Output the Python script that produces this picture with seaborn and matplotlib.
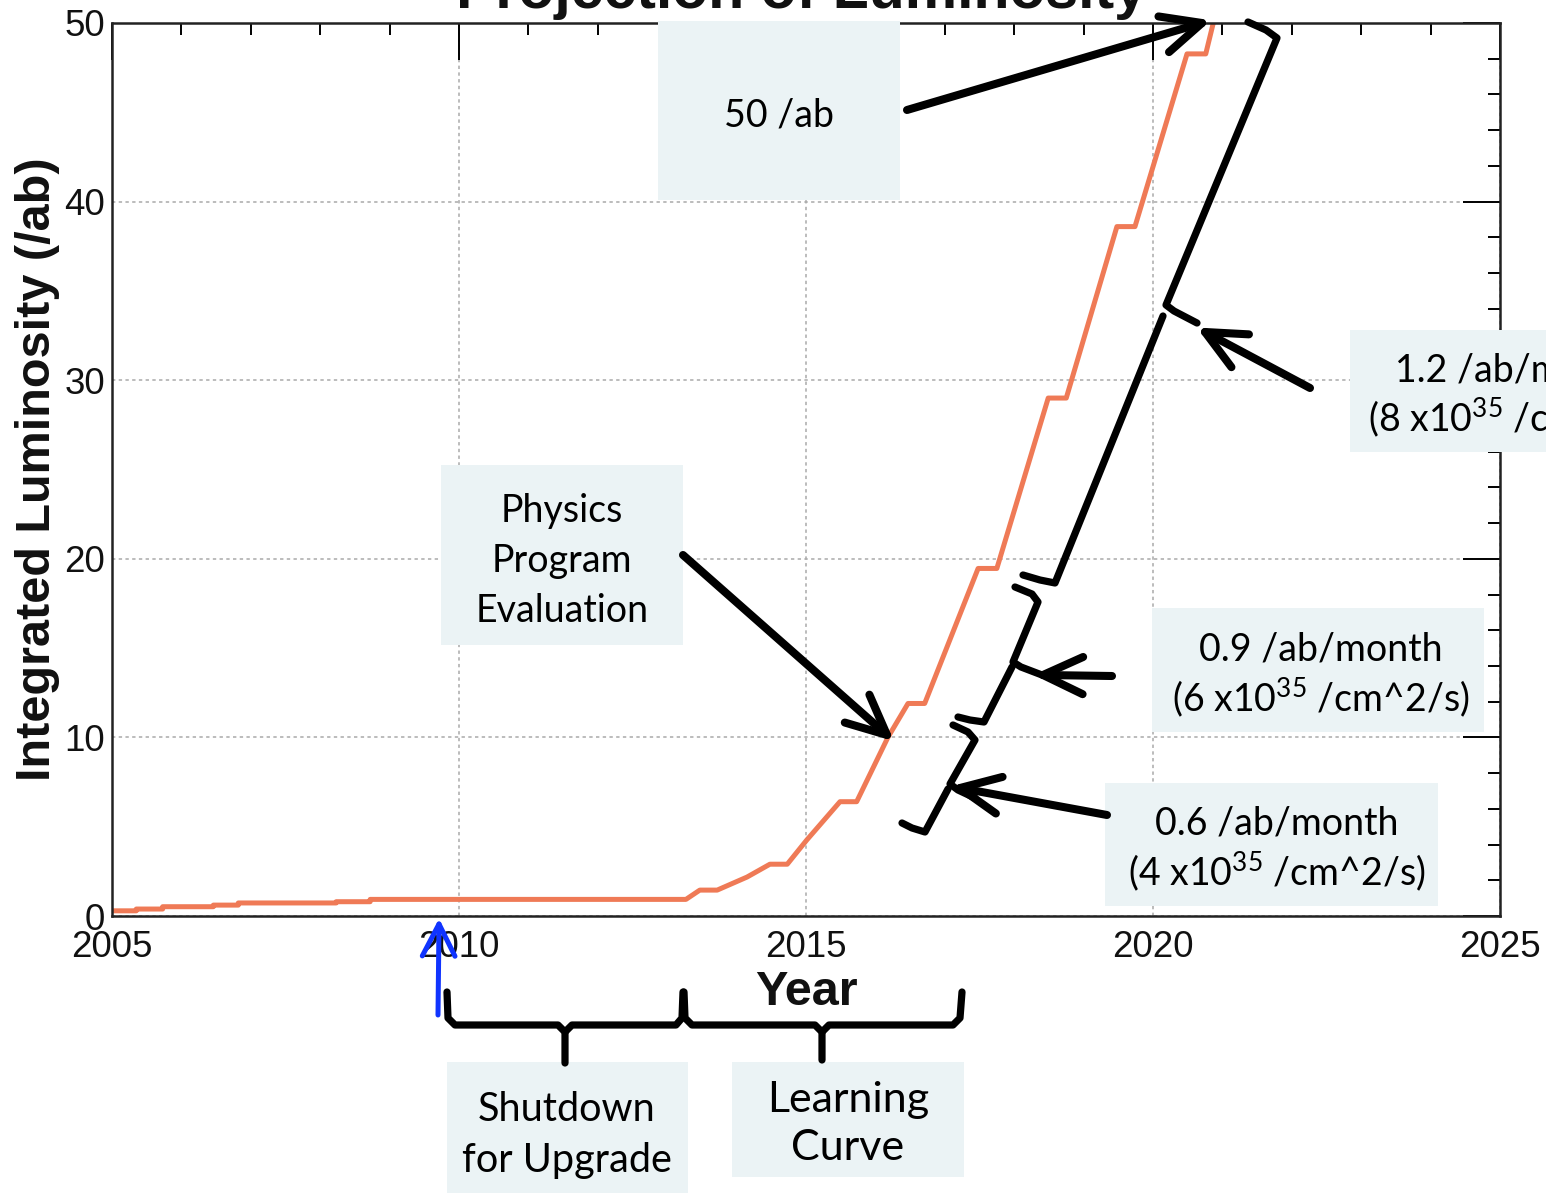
import numpy as np
import pandas as pd
import matplotlib
matplotlib.use("Agg")
import matplotlib.pyplot as plt
import matplotlib.transforms as mtransforms
from matplotlib.lines import Line2D
from matplotlib.patches import Rectangle
import seaborn as sns

# Projected integrated luminosity (/ab) versus calendar year
year = [2005.00, 2005.35, 2005.35, 2005.73, 2005.73, 2006.46, 2006.46, 2006.82,
        2006.82, 2008.23, 2008.23, 2008.72, 2008.72, 2013.27, 2013.47, 2013.72,
        2014.15, 2014.48, 2014.73, 2015.01, 2015.49, 2015.73, 2016.18, 2016.47,
        2016.71, 2017.48, 2017.75, 2018.49, 2018.75, 2019.48, 2019.74, 2020.49,
        2020.76, 2020.90]
lumi = [0.29, 0.29, 0.39, 0.39, 0.52, 0.52, 0.61, 0.61,
        0.73, 0.73, 0.80, 0.80, 0.93, 0.93, 1.45, 1.45,
        2.18, 2.90, 2.90, 4.25, 6.40, 6.40, 10.0, 11.90,
        11.90, 19.46, 19.46, 29.0, 29.0, 38.6, 38.6, 48.27,
        48.27, 50.5]

x_ticks = [2005, 2010, 2015, 2020, 2025]
x_tick_labels = ["2005", "2010", "2015", "2020", "2025"]
y_ticks = [0, 10, 20, 30, 40, 50]
y_tick_labels = ["0", "10", "20", "30", "40", "50"]

title = "Projection of Luminosity"
x_label = "Year"
y_label = "Integrated Luminosity (/ab)"

box_lines = [
    ["50 /ab"],
    ["Physics", "Program", "Evaluation"],
    ["1.2 /ab/month", "(8 x10$^{35}$ /cm^2/s)"],
    ["0.9 /ab/month", "(6 x10$^{35}$ /cm^2/s)"],
    ["0.6 /ab/month", "(4 x10$^{35}$ /cm^2/s)"],
    ["Shutdown", "for Upgrade"],
    ["Learning", "Curve"],
]

df = pd.DataFrame({"year": year, "lumi": lumi})

sns.set_style("white")
plt.rcParams["font.family"] = ["Liberation Sans", "DejaVu Sans"]
plt.rcParams["mathtext.fontset"] = "custom"
plt.rcParams["mathtext.rm"] = "Lato"
plt.rcParams["mathtext.it"] = "Lato:italic"
plt.rcParams["mathtext.bf"] = "Lato:bold"
plt.rcParams["mathtext.default"] = "rm"

W, H = 1546, 1193
fig = plt.figure(figsize=(W / 100, H / 100), dpi=100)
fig.patch.set_facecolor("white")

# axes frame in pixel units
left, right, top, bottom = 112, 1500, 23, 916
ax = fig.add_axes([left / W, (H - bottom) / H, (right - left) / W, (bottom - top) / H])

sns.lineplot(data=df, x="year", y="lumi", ax=ax, estimator=None, sort=False,
             color="#EF7A56", linewidth=3.6, legend=False)

ax.set_xlim(2005, 2025)
ax.set_ylim(0, 50)
ax.set_xticks(x_ticks)
ax.set_xticklabels(x_tick_labels)
ax.set_yticks(y_ticks)
ax.set_yticklabels(y_tick_labels)
ax.set_xticks(np.arange(2005, 2026, 1), minor=True)
ax.set_yticks(np.arange(0, 51, 2), minor=True)
ax.tick_params(which="both", direction="in", top=True, right=True,
               color="black", width=1.4)
ax.tick_params(which="major", length=26.5, labelsize=26.5, labelcolor="#111111")
ax.tick_params(which="minor", length=8.5)
ax.tick_params(axis="x", which="major", pad=10)
ax.tick_params(axis="y", which="major", pad=5)
ax.grid(True, which="major", color="#aaaaaa", linestyle=(0, (2.2, 2.2)), linewidth=1.1)
for sp in ax.spines.values():
    sp.set_visible(True)
    sp.set_color("#222222")
    sp.set_linewidth(1.8)

ax.set_xlabel(x_label, fontsize=35, fontweight="bold", color="#111111")
ax.set_ylabel(y_label, fontsize=35, fontweight="bold", color="#111111")
ax.xaxis.set_label_coords(0.5, -0.060)
ax.yaxis.set_label_coords(-0.0375, 0.5)

fig.text(802 / W, 1 - 8 / H, title, ha="center", va="baseline",
         fontsize=42.5, fontweight="bold", color="#111111")

# pixel transform, origin at the top-left corner of the figure
PX = mtransforms.Affine2D().scale(1 / W, -1 / H).translate(0, 1) + fig.transFigure


def poly(points, color="black", lw=5.2, z=5):
    xs, ys = zip(*points)
    fig.add_artist(Line2D(xs, ys, transform=PX, color=color, linewidth=lw,
                          solid_capstyle="round", solid_joinstyle="round", zorder=z))


def arrow(tail, tip, color="black", lw=5.8, barb=44, half=25):
    hx, hy = tip
    ang = np.arctan2(tail[1] - hy, tail[0] - hx)
    b1 = (hx + barb * np.cos(ang + np.radians(half)), hy + barb * np.sin(ang + np.radians(half)))
    b2 = (hx + barb * np.cos(ang - np.radians(half)), hy + barb * np.sin(ang - np.radians(half)))
    poly([tail, tip], color, lw)
    poly([b1, tip, b2], color, lw)


# label boxes: (x0, y0, x1, y1) in pixels, text centre x, line baselines, font size
boxes = [
    ((658, 21, 900, 200), 779, [127], 27),
    ((441, 465, 683, 645), 562, [522, 572, 622], 27),
    ((1350, 330, 1690, 452), 1517, [381, 431], 27),
    ((1152, 608, 1484, 732), 1321, [661, 711], 27),
    ((1105, 783, 1438, 906), 1277, [834, 885], 27),
    ((447, 1062, 688, 1200), 567, [1121, 1172], 28.5),
    ((732, 1062, 964, 1177), 848, [1112, 1160], 31),
]
for (x0, y0, x1, y1), cx, bases, fs in boxes:
    fig.add_artist(Rectangle((x0, y1), x1 - x0, y0 - y1, transform=PX,
                             facecolor="#EBF3F5", edgecolor="none", zorder=3))
for ((x0, y0, x1, y1), cx, bases, fs), lines in zip(boxes, box_lines):
    for by, line in zip(bases, lines):
        fig.text(cx / W, 1 - by / H, line, ha="center", va="baseline", fontsize=fs,
                 family="Lato", color="black", zorder=4)

# arrows towards the curve
arrow((907, 110), (1202, 23))
arrow((683, 555), (887, 735))
arrow((1310, 388), (1205, 332))
arrow((1112, 676), (1043, 675))
arrow((1107, 815), (960, 788))
arrow((438, 1015), (439, 924), color="#1034FF", lw=3.6, barb=36, half=27)

# braces along the ramp-up periods
poly([(1248, 22), (1266, 30), (1277, 38), (1166, 305), (1174, 311), (1197, 323)])
poly([(1163, 316), (1055, 583), (1040, 580), (1023, 575)])
poly([(1015, 587), (1032, 594), (1038, 602), (1013, 662), (1021, 667), (1042, 675)])
poly([(1012, 667), (984, 722), (970, 720), (958, 717)])
poly([(953, 725), (968, 732), (975, 740), (950, 784), (958, 790), (975, 798)])
poly([(948, 789), (925, 832), (912, 828), (902, 823)])

# braces below the time axis
poly([(447, 992), (448, 1018), (455, 1025), (558, 1025), (565, 1032), (565, 1063)])
poly([(565, 1032), (572, 1025), (676, 1025), (682, 1018), (683, 992)])
poly([(684, 992), (685, 1018), (692, 1025), (815, 1025), (822, 1032), (822, 1060)])
poly([(822, 1032), (829, 1025), (953, 1025), (960, 1018), (962, 992)])

fig.savefig("out.png", dpi=100)
